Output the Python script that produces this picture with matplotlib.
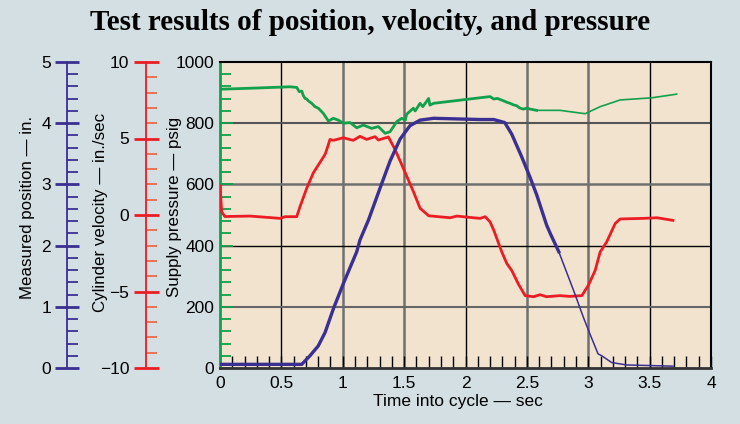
import numpy as np
import matplotlib
matplotlib.use("Agg")
import matplotlib.pyplot as plt
from matplotlib.ticker import MultipleLocator

# ---------------- data ----------------
title = "Test results of position, velocity, and pressure"
xlabel = "Time into cycle — sec"
label_pos = "Measured position — in."
label_vel = "Cylinder velocity — in./sec"
label_press = "Supply pressure — psig"

press_t = [0.0, 0.3, 0.57, 0.625, 0.646, 0.666, 0.679, 0.693, 0.707, 0.72,
           0.747, 0.774, 0.801, 0.842, 0.883, 0.923, 0.964, 1.005, 1.06, 1.114,
           1.168, 1.236, 1.29, 1.345, 1.385, 1.44, 1.48, 1.51, 1.52, 1.575,
           1.59, 1.63, 1.652, 1.70, 1.71, 1.74, 2.20, 2.23, 2.26, 2.31,
           2.34, 2.363, 2.39, 2.418, 2.44, 2.47, 2.50, 2.527, 2.58, 2.77,
           2.975, 3.097, 3.26, 3.518, 3.72]
press = [911, 915, 919, 917, 903, 905, 890, 881, 879, 873,
         865, 854, 849, 832, 807, 816, 810, 800, 802, 785,
         794, 783, 789, 767, 772, 805, 816, 810, 829, 849,
         840, 865, 854, 881, 859, 865, 887, 879, 881, 873,
         868, 865, 860, 857, 850, 846, 849, 846, 842, 842,
         831, 854, 876, 883, 895]

vel_t = [0.0, 0.014, 0.04, 0.245, 0.49, 0.53, 0.625, 0.652, 0.707, 0.76, 0.856, 0.87,
         0.896, 0.924, 1.005, 1.05, 1.086, 1.14, 1.195, 1.263, 1.29, 1.372, 1.426, 1.48,
         1.575, 1.63, 1.70, 1.875, 1.93, 2.065, 2.12, 2.16, 2.20, 2.23, 2.296, 2.337,
         2.377, 2.43, 2.486, 2.553, 2.608, 2.66, 2.77, 2.85, 2.948, 3.0, 3.056, 3.097,
         3.15, 3.22, 3.26, 3.45, 3.56, 3.69]
vel = [1.9, 0.2, -0.1, -0.07, -0.22, -0.11, -0.11, 0.55, 1.76, 2.75, 3.96, 4.28,
       4.94, 4.88, 5.05, 4.95, 4.88, 5.14, 4.94, 5.12, 4.90, 5.10, 4.28, 3.30,
       1.54, 0.44, -0.05, -0.18, -0.07, -0.18, -0.22, -0.11, -0.45, -0.99, -2.42, -3.18,
       -3.63, -4.50, -5.27, -5.34, -5.21, -5.34, -5.27, -5.32, -5.27, -4.61, -3.63, -2.42,
       -1.76, -0.55, -0.26, -0.22, -0.18, -0.35]

pos_t = [0.0, 0.666, 0.733, 0.80, 0.856, 0.924, 1.005, 1.114, 1.14, 1.21, 1.304, 1.385,
         1.467, 1.548, 1.63, 1.74, 2.12, 2.23, 2.32, 2.377, 2.46, 2.527, 2.58, 2.66,
         2.69, 2.76, 2.88, 2.96, 3.015, 3.08, 3.11, 3.19, 3.31, 3.69]
pos = [0.06, 0.06, 0.2, 0.36, 0.58, 0.97, 1.38, 1.90, 2.09, 2.42, 2.94, 3.38,
       3.74, 3.96, 4.05, 4.08, 4.06, 4.06, 4.01, 3.82, 3.44, 3.11, 2.83, 2.34,
       2.20, 1.90, 1.27, 0.83, 0.55, 0.23, 0.20, 0.09, 0.05, 0.03]

x_ticks = [0, 0.5, 1, 1.5, 2, 2.5, 3, 3.5, 4]
x_ticklabels = ["0", "0.5", "1", "1.5", "2", "2.5", "3", "3.5", "4"]

# ---------------- style ----------------
BG = "#d3dfe3"
PLOT_BG = "#f2e3cf"
GREEN = "#12a04c"
RED = "#ec1c24"
RED_MINOR = "#ec6a4a"
BLUE = "#3a2f92"

plt.rcParams["font.family"] = ["Liberation Sans", "DejaVu Sans"]
plt.rcParams["font.size"] = 12

fig = plt.figure(figsize=(7.4, 4.24), dpi=100, facecolor=BG)
W, H = 740, 424
left, right, top, bottom = 220, 711, 62, 368
ax = fig.add_axes([left / W, 1 - bottom / H, (right - left) / W, (bottom - top) / H])
ax.set_facecolor(PLOT_BG)
ax.set_xlim(0, 4)
ax.set_ylim(0, 1000)

# x axis
ax.set_xticks(x_ticks)
ax.set_xticklabels(x_ticklabels)
ax.xaxis.set_minor_locator(MultipleLocator(0.1))
ax.tick_params(axis="x", which="both", direction="in", length=9, width=1,
               color="black", pad=6, labelsize=12.5)
ax.set_xlabel(xlabel, fontsize=12.5, labelpad=1)
ax.xaxis.set_label_coords((458 - left) / (right - left), -0.085)

# pressure axis (green)
ax.yaxis.set_major_locator(MultipleLocator(200))
ax.yaxis.set_minor_locator(MultipleLocator(40))
ax.tick_params(axis="y", which="major", direction="in", length=9, width=1.3,
               color=GREEN, pad=4, labelsize=12.5)
ax.tick_params(axis="y", which="minor", direction="in", length=8, width=1.3, color=GREEN)
ax.set_ylabel(label_press, fontsize=12.2)
ax.yaxis.set_label_coords((182 - left) / (right - left), (bottom - 207) / (bottom - top))
ax.spines["left"].set_color(GREEN)
ax.spines["left"].set_linewidth(2)
ax.spines["bottom"].set_color("#333333")
ax.spines["bottom"].set_linewidth(2)
for s in ("top", "right"):
    ax.spines[s].set_color("black")
    ax.spines[s].set_linewidth(1.5)

# grid
ax.grid(True, which="major")
vstyles = {0.5: ("black", 1.0), 1: ("#707070", 1.8), 1.5: ("#707070", 1.8),
           2: ("black", 1.0), 2.5: ("#707070", 1.8), 3: ("#707070", 1.8), 3.5: ("black", 1.0)}
for val, gl in zip(ax.get_xticks(), ax.xaxis.get_gridlines()):
    c, lw = vstyles.get(float(val), (None, 0))
    if c is None:
        gl.set_visible(False)
    else:
        gl.set_color(c)
        gl.set_linewidth(lw)
hstyles = {200: ("#666666", 1.5), 400: ("black", 1.0), 600: ("#707070", 1.8),
           800: ("#555555", 1.5)}
for val, gl in zip(ax.get_yticks(), ax.yaxis.get_gridlines()):
    c, lw = hstyles.get(int(round(val)), (None, 0))
    if c is None:
        gl.set_visible(False)
    else:
        gl.set_color(c)
        gl.set_linewidth(lw)

# velocity axis (red)
axv = ax.twinx()
axv.set_ylim(-10, 10)
axv.yaxis.set_ticks_position("left")
axv.yaxis.set_label_position("left")
for s in ("top", "right", "bottom"):
    axv.spines[s].set_visible(False)
axv.spines["left"].set_position(("axes", (146 - left) / (right - left)))
axv.spines["left"].set_color(RED)
axv.spines["left"].set_linewidth(1.3)
axv.yaxis.set_major_locator(MultipleLocator(5))
axv.yaxis.set_minor_locator(MultipleLocator(1))
axv.tick_params(axis="y", which="major", direction="inout", length=18, width=2,
                color=RED, pad=3, labelsize=12.5)
axv.tick_params(axis="y", which="minor", direction="in", length=8, width=1.3, color=RED_MINOR)
axv.set_yticks([-10, -5, 0, 5, 10])
axv.set_yticklabels(["\u221210", "\u22125", "0", "5", "10"])
axv.set_ylabel(label_vel, fontsize=12.2)
axv.yaxis.set_label_coords((108 - left) / (right - left), (bottom - 212) / (bottom - top))

# position axis (blue)
axp = ax.twinx()
axp.set_ylim(0, 5)
axp.yaxis.set_ticks_position("left")
axp.yaxis.set_label_position("left")
for s in ("top", "right", "bottom"):
    axp.spines[s].set_visible(False)
axp.spines["left"].set_position(("axes", (67 - left) / (right - left)))
axp.spines["left"].set_color(BLUE)
axp.spines["left"].set_linewidth(1.3)
axp.yaxis.set_major_locator(MultipleLocator(1))
axp.yaxis.set_minor_locator(MultipleLocator(0.2))
axp.tick_params(axis="y", which="major", direction="inout", length=17, width=2,
                color=BLUE, pad=3, labelsize=12.5)
axp.tick_params(axis="y", which="minor", direction="in", length=8, width=1.3, color=BLUE)
axp.set_ylabel(label_pos, fontsize=12.2)
axp.yaxis.set_label_coords((35 - left) / (right - left), (bottom - 207) / (bottom - top))

# ---------------- lines ----------------
pt = np.array(press_t); pv = np.array(press)
k = int(np.searchsorted(pt, 2.58)) + 1
ax.plot(pt[:k], pv[:k], color=GREEN, lw=2.0, solid_joinstyle="round")
ax.plot(pt[k - 1:], pv[k - 1:], color=GREEN, lw=1.2)

axv.plot(vel_t, vel, color=RED, lw=2.0, solid_joinstyle="round")

qt = np.array(pos_t); qv = np.array(pos)
k = int(np.searchsorted(qt, 2.76)) + 1
axp.plot(qt[:k], qv[:k], color=BLUE, lw=2.4, solid_joinstyle="round")
axp.plot(qt[k - 1:], qv[k - 1:], color=BLUE, lw=1.1)

fig.text(0.5, 1 - 22 / H, title, ha="center", va="center",
         fontsize=21, fontweight="bold", family=["Liberation Serif", "DejaVu Serif"])

fig.savefig("out.png", dpi=100, facecolor=BG)
